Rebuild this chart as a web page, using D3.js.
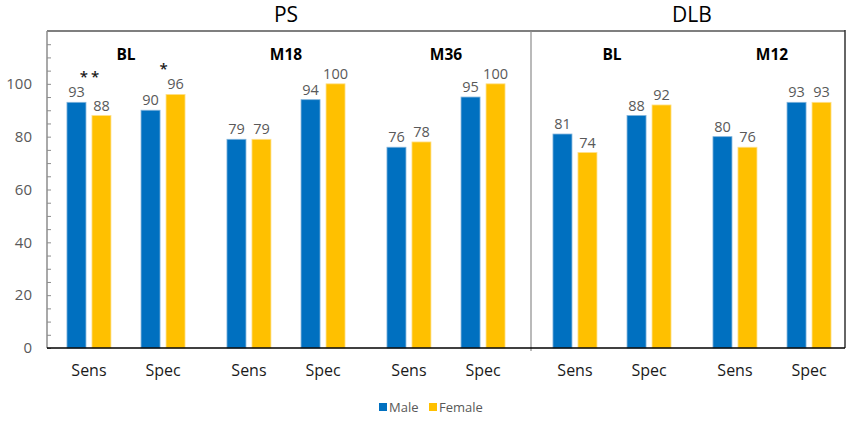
<!DOCTYPE html>
<html>
<head>
<meta charset="utf-8">
<script src="https://cdn.jsdelivr.net/npm/d3@7"></script>
<style>
  body { margin: 0; background: #fff; }
  svg text { font-family: "Open Sans", "Noto Sans", sans-serif; }
</style>
</head>
<body>
<div id="chart"></div>
<script>
// chart data
var panels = ["PS", "DLB"];
var psGroups = ["BL", "M18", "M36"];
var dlbGroups = ["BL", "M12"];
var measures = ["Sens", "Spec"];
var series = ["Male", "Female"];
var psMale = [93, 90, 79, 94, 76, 95];
var psFemale = [88, 96, 79, 100, 78, 100];
var dlbMale = [81, 88, 80, 93];
var dlbFemale = [74, 92, 76, 93];
var psMarks = ["**", "*", "", "", "", ""];
var dlbMarks = ["", "", "", ""];
var yTickLabels = [0, 20, 40, 60, 80, 100];

var colors = { "Male": "#0070c0", "Female": "#ffc000" },
	strokes = { "Male": "#7fb3dc", "Female": "#ffe08a" };

var width = 853, height = 421,
	frame = { left: 47, right: 845, top: 31, bottom: 348 },
	divider = 531;

var svg = d3.select("#chart").append("svg")
	.attr("width", width)
	.attr("height", height);

var yScale = d3.scaleLinear().domain([0, 120]).range([frame.bottom, frame.top]);

// one group scale per panel
var panelDefs = [
	{ name: panels[0], groups: psGroups, male: psMale, female: psFemale, marks: psMarks, range: [46, 526] },
	{ name: panels[1], groups: dlbGroups, male: dlbMale, female: dlbFemale, marks: dlbMarks, range: [532, 852] }
];

var measureScale = d3.scalePoint().domain(measures).range([0, 160]).padding(0.58);
var seriesScale = d3.scaleBand().domain(series).range([-22, 22]).paddingInner(0.24);

// y minor ticks (inside)
svg.append("g")
	.attr("class", "axis axis-y-minor")
	.attr("transform", "translate(" + frame.left + ",0)")
	.call(d3.axisLeft(yScale).tickValues(d3.range(0, 121, 5)).tickSizeInner(-4).tickSizeOuter(0).tickFormat(""))
	.call(function(g) {
		g.select(".domain").remove();
		g.selectAll("line").attr("stroke", "#8c8c8c");
	});

// y labels
svg.append("g")
	.attr("class", "axis axis-y")
	.attr("transform", "translate(" + frame.left + ",0)")
	.call(d3.axisLeft(yScale).tickValues(yTickLabels).tickSize(0).tickPadding(15))
	.call(function(g) {
		g.select(".domain").remove();
		g.selectAll("text")
			.attr("fill", "#595959")
			.style("font-size", "15px")
			.style("font-family", "'Open Sans', sans-serif");
	});

panelDefs.forEach(function(p) {
	var groupScale = d3.scaleBand().domain(p.groups).range(p.range);
	var rows = [];
	p.groups.forEach(function(g, gi) {
		measures.forEach(function(m, mi) {
			var k = gi * measures.length + mi;
			rows.push({ group: g, measure: m, Male: p.male[k], Female: p.female[k], mark: p.marks[k] });
		});
	});
	var cx = function(d) { return groupScale(d.group) + measureScale(d.measure); };

	var pg = svg.append("g").attr("class", "panel");

	// bars
	series.forEach(function(s) {
		pg.selectAll("rect.bar-" + s)
			.data(rows)
			.enter().append("rect")
			.attr("class", "bar-" + s)
			.attr("x", function(d) { return cx(d) + seriesScale(s); })
			.attr("y", function(d) { return yScale(d[s]); })
			.attr("width", seriesScale.bandwidth())
			.attr("height", function(d) { return yScale(0) - yScale(d[s]); })
			.attr("fill", colors[s])
			.attr("stroke", strokes[s])
			.attr("stroke-width", 0.8);

		pg.selectAll("text.val-" + s)
			.data(rows)
			.enter().append("text")
			.attr("class", "val-" + s)
			.attr("x", function(d) { return cx(d) + seriesScale(s) + seriesScale.bandwidth() / 2; })
			.attr("y", function(d) { return yScale(d[s]) - 5; })
			.attr("text-anchor", "middle")
			.attr("fill", "#595959")
			.style("font-size", "14.5px")
			.text(function(d) { return d[s]; });
	});

	// significance marks
	pg.selectAll("text.mark")
		.data(rows.filter(function(d) { return d.mark; }))
		.enter().append("text")
		.attr("class", "mark")
		.attr("x", function(d) { return cx(d) + 2; })
		.attr("y", function(d) { return yScale(Math.max(d.Male, d.Female)) - 20; })
		.attr("text-anchor", "middle")
		.attr("fill", "#1a1a1a")
		.style("font-size", "15px")
		.style("font-weight", "600")
		.style("letter-spacing", "3px")
		.text(function(d) { return d.mark; });

	// category labels
	pg.selectAll("text.cat")
		.data(rows)
		.enter().append("text")
		.attr("class", "cat")
		.attr("x", cx)
		.attr("y", 376)
		.attr("text-anchor", "middle")
		.attr("fill", "#1a1a1a")
		.style("font-size", "16px")
		.text(function(d) { return d.measure; });

	// time point labels
	pg.selectAll("text.group")
		.data(p.groups)
		.enter().append("text")
		.attr("class", "group")
		.attr("x", function(d) { return groupScale(d) + groupScale.bandwidth() / 2; })
		.attr("y", 60)
		.attr("text-anchor", "middle")
		.attr("fill", "#000")
		.style("font-size", "15.5px")
		.style("font-weight", "bold")
		.text(function(d) { return d; });

	// panel title
	var first = groupScale(p.groups[0]) + measureScale(measures[0]) + seriesScale(series[0]),
		last = groupScale(p.groups[p.groups.length - 1]) + measureScale(measures[measures.length - 1]) + seriesScale(series[series.length - 1]) + seriesScale.bandwidth();
	pg.append("text")
		.attr("x", (first + last) / 2)
		.attr("y", 22)
		.attr("text-anchor", "middle")
		.attr("fill", "#000")
		.style("font-size", "21px")
		.text(p.name);
});

// frame lines
svg.append("line")
	.attr("x1", frame.left).attr("x2", frame.right)
	.attr("y1", frame.top).attr("y2", frame.top)
	.attr("stroke", "#7f7f7f").attr("stroke-width", 2);
svg.append("line")
	.attr("x1", frame.left).attr("x2", frame.left)
	.attr("y1", frame.top).attr("y2", frame.bottom)
	.attr("stroke", "#8c8c8c").attr("stroke-width", 1.5);
svg.append("line")
	.attr("x1", divider).attr("x2", divider)
	.attr("y1", frame.top).attr("y2", frame.bottom + 3)
	.attr("stroke", "#8c8c8c").attr("stroke-width", 1.2);
svg.append("line")
	.attr("x1", frame.right).attr("x2", frame.right)
	.attr("y1", frame.top - 1).attr("y2", frame.bottom)
	.attr("stroke", "#333").attr("stroke-width", 1.5);
svg.append("line")
	.attr("x1", frame.left).attr("x2", frame.right)
	.attr("y1", frame.bottom).attr("y2", frame.bottom)
	.attr("stroke", "#000").attr("stroke-width", 1.5);

// legend
var legend = svg.append("g").attr("class", "legend")
	.attr("transform", "translate(379,403)");
var legendX = { "Male": 0, "Female": 50 };
var li = legend.selectAll("g.item")
	.data(series)
	.enter().append("g")
	.attr("class", "item")
	.attr("transform", function(d) { return "translate(" + legendX[d] + ",0)"; });
li.append("rect")
	.attr("width", 8).attr("height", 8)
	.attr("fill", function(d) { return colors[d]; });
li.append("text")
	.attr("x", 10)
	.attr("y", 8.5)
	.attr("fill", "#595959")
	.style("font-size", "13px")
	.text(function(d) { return d; });
</script>
</body>
</html>
